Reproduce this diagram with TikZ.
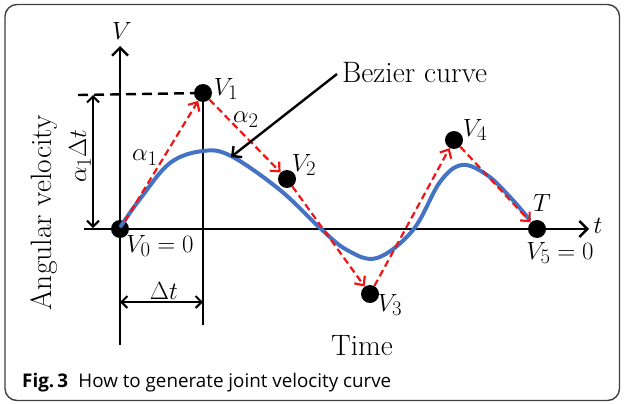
\documentclass[tikz,border=0pt]{standalone}
\usepackage{fontspec}
\newfontfamily\capfont{Open Sans}
\usetikzlibrary{arrows.meta}
\definecolor{curveblue}{RGB}{68,114,196}
\definecolor{arrred}{RGB}{240,20,20}
\tikzset{
  dot/.style={circle,fill=black,inner sep=0pt,minimum size=18pt},
  axis/.style={line width=2.4pt,-{Straight Barb[length=8pt,width=16pt,line width=2.4pt]}},
  blk/.style={line width=2.4pt},
  dim/.style={line width=2pt,{Straight Barb[length=6pt,width=12pt,line width=2pt]}-{Straight Barb[length=6pt,width=12pt,line width=2pt]}},
  redarrow/.style={arrred,line width=2.2pt,dash pattern=on 7pt off 4pt,-{Straight Barb[length=7pt,width=13pt,line width=2.2pt]}},
  lbl/.style={inner sep=0pt,font=\fontsize{28.4}{32}\selectfont},
  txt/.style={inner sep=0pt,font=\fontsize{29.5}{34}\selectfont},
  bez/.style={curveblue,line width=4pt,line cap=round}
}
\begin{document}
\begin{tikzpicture}[x=1pt,y=-1pt]
\useasboundingbox (0,0) rectangle (624,404);
\draw[line width=1.4pt,black!75,rounded corners=12pt] (5,4.5) rectangle (619.5,400.5);

% points
\coordinate (vtop) at (120,46);
\coordinate (vbot) at (120,345);
\coordinate (tleft) at (84,229);
\coordinate (tright) at (589,229);
\node[dot] (v0) at (120,229) {};
\node[dot] (v1) at (203,93) {};
\node[dot] (v2) at (287,179) {};
\node[dot] (v3) at (370,294) {};
\node[dot] (v4) at (454,140) {};
\node[dot] (v5) at (537,229) {};
\coordinate (v1bot) at (203,325);
\coordinate (dashl) at (78,95);
\coordinate (dimtop) at (93,95);
\coordinate (dimbot) at (93,228);
\coordinate (dtl) at (120,302);
\coordinate (dtr) at (203,302);

% axes
\draw[axis] (vbot) -- (vtop);
\draw[axis] (tleft) -- (tright);
\draw[blk] (v1.center) -- (v1bot);
\draw[blk,dash pattern=on 10pt off 6pt] (dashl) -- (v1.center);
\draw[dim] (dimtop) -- (dimbot);
\draw[dim] (dtl) -- (dtr);

% bezier curve
\draw[bez] plot[smooth,tension=0.6] coordinates {(121,226) (140,199) (170,163) (203,151) (231,156) (280,190) (320,228) (347,250) (377,258) (413,230) (440,182) (462,165) (487,175) (510,197) (529,219)};

% red arrows
\draw[redarrow] (v0) -- (v1);
\draw[redarrow] (v1) -- (v2);
\draw[redarrow] (v2) -- (v3);
\draw[redarrow] (v3) -- (v4);
\draw[redarrow] (v4) -- (v5);

% bezier label arrow
\node[txt,anchor=west] (bezlbl) at (342,73) {Bezier curve};
\coordinate (bezfrom) at (337,74);
\coordinate (bezto) at (231,157);
\draw[line width=2.4pt,-{Straight Barb[length=7pt,width=14pt,line width=2.4pt]}] (bezfrom) -- (bezto);

% labels
\node[lbl] (lV) at (122,31) {$V$};
\node[lbl] (lt) at (598,226) {$t$};
\node[lbl] (l1) at (226,89) {$V_1$};
\node[lbl] (l2) at (304,165) {$V_2$};
\node[lbl] (l3) at (390,305) {$V_3$};
\node[lbl] (l4) at (475,130) {$V_4$};
\node[lbl] (lT) at (542,203) {$T$};
\node[lbl] (l5) at (560,253) {$V_5=0$};
\node[lbl] (l0) at (160,246) {$V_0=0$};
\node[lbl] (la1) at (145,158) {$\alpha_1$};
\node[lbl] (la2) at (246,120) {$\alpha_2$};
\node[lbl] (ldt) at (164,291) {$\Delta t$};
\node[lbl,rotate=90] (ladt) at (80,156) {$\alpha_1\Delta t$};
\node[txt,rotate=90] (lang) at (44,213) {Angular velocity};
\node[txt] (ltime) at (362,346) {Time};

% caption
\node[anchor=base west,inner sep=0pt,font=\capfont\fontsize{18.8}{22}\selectfont] (cap) at (22,387) {\textbf{Fig.\,3}\hspace{0.55em}How to generate joint velocity curve};
\end{tikzpicture}
\end{document}
